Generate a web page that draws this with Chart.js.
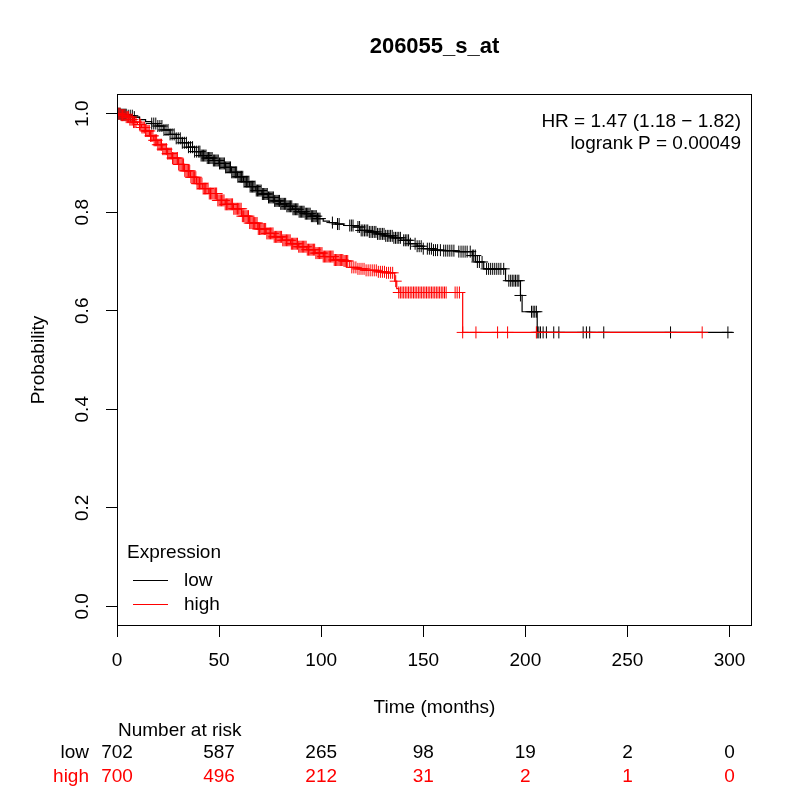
<!DOCTYPE html>
<html>
<head>
<meta charset="utf-8">
<script src="https://cdn.jsdelivr.net/npm/chart.js@4"></script>
<style>
html,body{margin:0;padding:0;background:#fff;}
canvas{display:block;}
</style>
</head>
<body>
<canvas id="c" width="800" height="800"></canvas>
<script>
const chartTitle = "206055_s_at";
const groups = ["low", "high"];
const timeTicks = [0, 50, 100, 150, 200, 250, 300];
const probTicks = [0, 0.2, 0.4, 0.6, 0.8, 1.0];
const riskLow = [702, 587, 265, 98, 19, 2, 0];
const riskHigh = [700, 496, 212, 31, 2, 1, 0];
const hrText = "HR = 1.47 (1.18 \u2212 1.82)";
const pText = "logrank P = 0.00049";

// Kaplan-Meier step curve: time of event and survival after it
const lowTimes = [0, 2, 5, 8, 11, 14, 17, 20, 23, 26, 29, 32, 35, 38, 41, 44, 47, 50, 53, 56, 59, 62, 65, 68, 71, 74, 77, 80, 83, 86, 89, 92, 95, 98, 101, 104, 107, 111, 116, 119, 123, 127, 131, 135, 139, 143, 147, 150, 155, 160, 166, 174, 175.6, 179.6, 190.3, 197.6, 198.4, 205.8];
const lowSurv = [1.0, 0.998, 0.996, 0.993, 0.988, 0.984, 0.980, 0.975, 0.967, 0.958, 0.950, 0.941, 0.932, 0.923, 0.915, 0.910, 0.905, 0.899, 0.891, 0.881, 0.872, 0.862, 0.852, 0.844, 0.837, 0.830, 0.823, 0.817, 0.812, 0.806, 0.801, 0.797, 0.792, 0.787, 0.782, 0.779, 0.776, 0.773, 0.770, 0.763, 0.760, 0.756, 0.752, 0.748, 0.743, 0.736, 0.731, 0.726, 0.723, 0.722, 0.720, 0.712, 0.699, 0.685, 0.661, 0.631, 0.598, 0.556];
const lowEnd = 301.5;

const highTimes = [0, 2, 4, 6, 8, 10, 12, 14, 16, 18, 20, 22, 24.5, 27, 30, 33, 36, 39, 42, 45, 49, 53, 57, 61, 65, 69, 73, 77, 81, 85, 89, 93, 97, 101, 106, 111, 114, 118, 122, 128, 132, 136, 137, 138, 169.3];
const highSurv = [1.0, 0.997, 0.993, 0.988, 0.983, 0.978, 0.972, 0.965, 0.955, 0.946, 0.937, 0.928, 0.919, 0.910, 0.897, 0.884, 0.871, 0.858, 0.848, 0.838, 0.824, 0.816, 0.807, 0.792, 0.778, 0.766, 0.757, 0.750, 0.743, 0.736, 0.730, 0.724, 0.717, 0.710, 0.703, 0.701, 0.688, 0.685, 0.682, 0.679, 0.677, 0.660, 0.645, 0.637, 0.556];
const highEnd = 286.6;

// censoring times
const lowCensor = [0.5, 1, 1.5, 2, 2.5, 3, 3.5, 4, 4.5, 5.5, 6.5, 7.5, 8.5,
  17, 18, 19, 20, 21, 22, 23, 24, 25, 26, 27, 28, 29, 30, 31, 32, 33, 34, 35, 36, 37, 38, 39,
  40, 40.6, 41.2, 41.8, 42.4, 43, 43.6, 44.2, 44.8, 45.4, 46, 46.6, 47.2, 47.8, 48.4, 49, 49.6, 50.2, 50.8, 51.4, 52, 52.6, 53.2, 53.8, 54.4, 55, 55.6, 56.2, 56.8, 57.4, 58, 58.6, 59.2, 59.8,
  60.4, 61, 61.6, 62.2, 62.8, 63.4, 64, 64.6, 65.2, 65.8, 66.4, 67, 67.6, 68.2, 68.8, 69.4, 70, 70.6, 71.2, 71.8, 72.4, 73, 73.6, 74.2, 74.8, 75.4, 76, 76.6, 77.2, 77.8, 78.4, 79, 79.6,
  80.2, 80.8, 81.4, 82, 82.6, 83.2, 83.8, 84.4, 85, 85.6, 86.2, 86.8, 87.4, 88, 88.6, 89.2, 89.8, 90.4, 91, 91.6, 92.2, 92.8, 93.4, 94, 94.6, 95.2, 95.8, 96.4, 97, 97.6, 98.2, 98.8, 99.4,
  105.5, 108, 108.8, 114, 114.8, 115.6, 118, 118.8, 119.6, 120.4, 121.2, 122, 122.8, 123.6, 124.4, 125.2, 126, 126.8, 127.6, 128.4, 129.2, 130, 130.8, 131.6, 132.4, 133.2, 134, 134.8, 135.6, 136.4, 137.2, 138, 138.8,
  140.4, 141.2, 142, 142.8, 143.7, 146, 147, 148, 149, 150, 152, 153, 154, 155, 156, 157, 158.4, 160, 161, 162, 163, 164, 165, 167.4, 168.5, 169.5, 170.5, 171.5, 173, 174, 174.7, 175.5, 176.5, 177.5, 178.8,
  181, 182, 183, 184, 185, 186, 187, 188, 189.4, 191.9, 192.8, 193.6, 194.4, 195.2, 196, 196.8, 197.6, 203, 203.8, 204.6, 205.4, 205.8, 206.6, 207.4, 208.7, 210.3, 213.9, 216.4, 228.3, 229.9, 231.5, 238.4, 271.1, 299.2];
const highCensor = [0.3, 0.9, 1.5, 2.1, 2.7, 3.3, 3.9, 4.5, 5.1, 5.7, 6.3, 6.9, 7.5, 8.1, 8.7, 9.3,
  11, 11.6, 12.2, 12.8, 13.4, 14, 14.6, 15.2, 15.8, 16.4, 17, 17.6, 18.2, 18.8, 19.4, 20, 20.6, 21.2, 21.8, 22.4, 23, 23.6, 24.2, 24.8, 25.4, 26, 26.6, 27.2, 27.8, 28.4, 29, 29.6,
  30.2, 30.8, 31.4, 32, 32.6, 33.2, 33.8, 34.4, 35, 35.6, 36.2, 36.8, 37.4, 38, 38.6, 39.2, 39.8, 40.4, 41, 41.6, 42.2, 42.8, 43.4, 44, 44.6, 45.2, 45.8, 46.4, 47, 47.6, 48.2, 48.8, 49.4,
  50, 50.6, 51.2, 51.8, 52.4, 53, 53.6, 54.2, 54.8, 55.4, 56, 56.6, 57.2, 57.8, 58.4, 59, 59.6, 60.2, 60.8, 61.4, 62, 62.6, 63.2, 63.8, 64.4, 65, 65.6, 66.2, 66.8, 67.4, 68, 68.6, 69.2, 69.8,
  70.4, 71, 71.6, 72.2, 72.8, 73.4, 74, 74.6, 75.2, 75.8, 76.4, 77, 77.6, 78.2, 78.8, 79.4, 80, 80.6, 81.2, 81.8, 82.4, 83, 83.6, 84.2, 84.8, 85.4, 86, 86.6, 87.2, 87.8, 88.4, 89, 89.6,
  90.2, 90.8, 91.4, 92, 92.6, 93.2, 93.8, 94.4, 95, 95.6, 96.2, 96.8, 97.4, 98, 98.6, 99.2, 99.8, 100.4, 101, 101.6, 102.2, 102.8, 103.4, 104, 104.6, 105.2, 105.8, 106.4, 107, 107.6, 108.2, 108.8, 109.4,
  110, 110.6, 111.2, 111.8, 112.4, 113, 115, 116, 117, 118, 119, 120, 121, 122, 123, 124, 125, 126, 127, 128, 129, 130, 131, 132, 133, 134, 135,
  136.5, 138, 138.8, 139.6, 140.4, 141.2, 142, 142.8, 143.6, 144.4, 145.2, 146, 146.8, 147.6, 148.4, 149.2, 150, 150.8, 151.6, 152.4, 153.2, 154, 154.8, 155.6, 156.4, 157.2, 158, 158.8, 159.6, 160.4, 161.2,
  165.6, 166.6, 167.7, 169.3, 175.8, 186.4, 191.3, 205.4, 286.6];

const RED = "#ff0000";
const FONT = "'Liberation Sans', Arial, Helvetica, sans-serif";
const FS = 19;

function survAt(times, surv, t) {
  let s = surv[0];
  for (let i = 0; i < times.length; i++) { if (times[i] <= t) s = surv[i]; }
  return s;
}
function stepData(times, surv, end) {
  const d = times.map((t, i) => ({x: t, y: surv[i]}));
  d.push({x: end, y: surv[surv.length - 1]});
  return d;
}
function censorData(cens, times, surv) {
  return cens.map(t => ({x: t, y: survAt(times, surv, t)}));
}

const overlay = {
  id: "overlay",
  afterDraw(chart) {
    const ctx = chart.ctx;
    const a = chart.chartArea;
    const xs = chart.scales.x, ys = chart.scales.y;
    ctx.save();
    ctx.strokeStyle = "#000";
    ctx.lineWidth = 1;
    ctx.strokeRect(Math.round(a.left) + 0.5, Math.round(a.top) + 0.5, Math.round(a.right - a.left) - 1, Math.round(a.bottom - a.top) - 1);
    ctx.fillStyle = "#000";
    // title
    ctx.font = "bold 22px " + FONT;
    ctx.textAlign = "center";
    ctx.textBaseline = "alphabetic";
    ctx.fillText(chartTitle, (a.left + a.right) / 2, 53);
    // y tick labels (rotated like R)
    ctx.font = FS + "px " + FONT;
    probTicks.forEach(v => {
      ctx.save();
      ctx.translate(88, ys.getPixelForValue(v));
      ctx.rotate(-Math.PI / 2);
      ctx.textAlign = "center";
      ctx.fillText(v.toFixed(1), 0, 0);
      ctx.restore();
    });
    // y title
    ctx.save();
    ctx.translate(44, (a.top + a.bottom) / 2);
    ctx.rotate(-Math.PI / 2);
    ctx.textAlign = "center";
    ctx.fillText("Probability", 0, 0);
    ctx.restore();
    // x title
    ctx.textAlign = "center";
    ctx.fillText("Time (months)", (a.left + a.right) / 2, 713);
    // HR text
    ctx.textAlign = "right";
    ctx.fillText(hrText, 741, 127);
    ctx.fillText(pText, 741, 149);
    // legend
    ctx.textAlign = "left";
    ctx.fillText("Expression", 127, 558);
    ctx.fillText(groups[0], 184, 586);
    ctx.fillText(groups[1], 184, 610);
    ctx.lineWidth = 1.2;
    ctx.strokeStyle = "#000";
    ctx.beginPath(); ctx.moveTo(133, 580.5); ctx.lineTo(168, 580.5); ctx.stroke();
    ctx.strokeStyle = RED;
    ctx.beginPath(); ctx.moveTo(133, 604.5); ctx.lineTo(168, 604.5); ctx.stroke();
    // number at risk
    ctx.fillStyle = "#000";
    ctx.textAlign = "left";
    ctx.fillText("Number at risk", 118, 736);
    ctx.textAlign = "right";
    ctx.fillText(groups[0], 89, 758);
    ctx.fillStyle = RED;
    ctx.fillText(groups[1], 89, 782);
    ctx.textAlign = "center";
    timeTicks.forEach((t, i) => {
      const px = xs.getPixelForValue(t);
      ctx.fillStyle = "#000";
      ctx.fillText(String(riskLow[i]), px, 758);
      ctx.fillStyle = RED;
      ctx.fillText(String(riskHigh[i]), px, 782);
    });
    ctx.restore();
  }
};

new Chart(document.getElementById("c"), {
  type: "scatter",
  data: {
    datasets: [
      {label: "low", type: "line", data: stepData(lowTimes, lowSurv, lowEnd), stepped: "before",
       borderColor: "#000", borderWidth: 1.2, pointRadius: 0, fill: false, order: 4},
      {label: "low censored", data: censorData(lowCensor, lowTimes, lowSurv), pointStyle: "cross",
       pointRadius: 6, borderColor: "#000", backgroundColor: "#000", pointBorderWidth: 1, borderWidth: 1, order: 3},
      {label: "high", type: "line", data: stepData(highTimes, highSurv, highEnd), stepped: "before",
       borderColor: RED, borderWidth: 1.2, pointRadius: 0, fill: false, order: 2},
      {label: "high censored", data: censorData(highCensor, highTimes, highSurv), pointStyle: "cross",
       pointRadius: 6, borderColor: RED, backgroundColor: RED, pointBorderWidth: 1, borderWidth: 1, order: 1}
    ]
  },
  options: {
    responsive: false,
    devicePixelRatio: 1,
    animation: false,
    layout: {padding: {top: 94, right: 48, bottom: 0, left: 0}},
    plugins: {legend: {display: false}, tooltip: {enabled: false}, title: {display: false}},
    scales: {
      x: {
        type: "linear", min: 0, max: 311,
        afterBuildTicks: s => { s.ticks = timeTicks.map(v => ({value: v})); },
        afterFit: s => { s.height = 174; },
        grid: {drawOnChartArea: false, drawTicks: true, tickLength: 11, color: "#000", lineWidth: 1},
        border: {display: false},
        ticks: {color: "#000", font: {family: FONT, size: FS}, padding: 12, maxRotation: 0, minRotation: 0}
      },
      y: {
        type: "linear", min: -0.04, max: 1.04,
        afterBuildTicks: s => { s.ticks = probTicks.map(v => ({value: v})); },
        afterFit: s => { s.width = 117; },
        grid: {drawOnChartArea: false, drawTicks: true, tickLength: 11, color: "#000", lineWidth: 1},
        border: {display: false},
        ticks: {display: false}
      }
    }
  },
  plugins: [overlay]
});
</script>
</body>
</html>
